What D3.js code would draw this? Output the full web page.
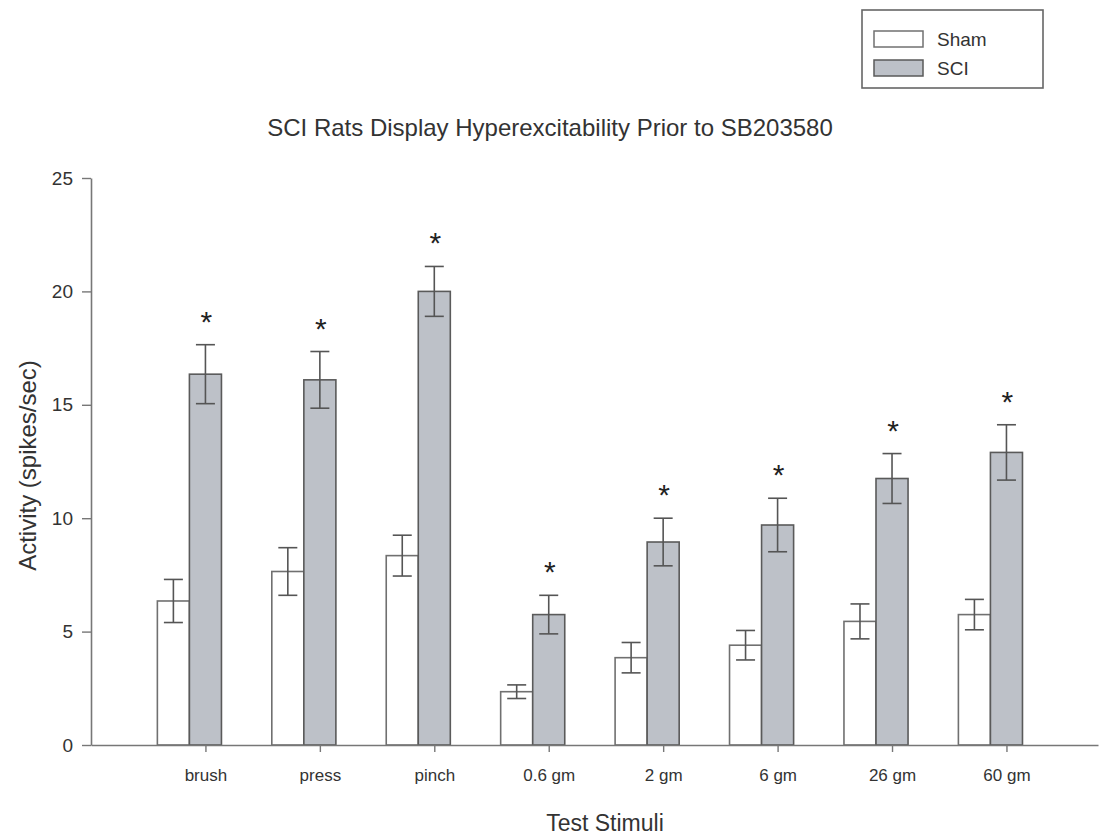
<!DOCTYPE html>
<html>
<head>
<meta charset="utf-8">
<script src="https://cdn.jsdelivr.net/npm/d3@7"></script>
<style>
  body { margin: 0; background: #fff; }
  text { font-family: "Liberation Sans", Arial, sans-serif; fill: #333; }
</style>
</head>
<body>
<div id="chart"></div>
<script>
// values (spikes/sec)
const categories = ["brush", "press", "pinch", "0.6 gm", "2 gm", "6 gm", "26 gm", "60 gm"];
const shamMean = [6.35, 7.65, 8.35, 2.35, 3.85, 4.4, 5.45, 5.75];
const shamErr = [0.95, 1.05, 0.9, 0.3, 0.67, 0.65, 0.77, 0.67];
const sciMean = [16.35, 16.1, 20.0, 5.75, 8.95, 9.7, 11.75, 12.9];
const sciErr = [1.3, 1.25, 1.1, 0.85, 1.05, 1.18, 1.1, 1.22];
const significant = [true, true, true, true, true, true, true, true];
const yTicks = [0, 5, 10, 15, 20, 25];

const width = 1111;
const height = 838;
const barW = 0.28; // in category units

const svg = d3.select("#chart")
  .append("svg")
  .attr("width", width)
  .attr("height", height);

const xScale = d3.scaleLinear()
  .domain([0, 8.8])
  .range([91, 1098]);

const yScale = d3.scaleLinear()
  .domain([0, 25])
  .range([745, 178]);

// bars: sham sits left of SCI, tick is at the SCI bar centre
const rows = categories.map((c, i) => ({
  cat: c, pos: i + 1,
  sham: shamMean[i], shamE: shamErr[i],
  sci: sciMean[i], sciE: sciErr[i],
  sig: significant[i]
}));

const g = svg.append("g");

g.selectAll("rect.sham")
  .data(rows)
  .join("rect")
  .attr("class", "sham")
  .attr("x", d => xScale(d.pos - 1.5 * barW))
  .attr("width", d => xScale(d.pos - barW / 2) - xScale(d.pos - 1.5 * barW))
  .attr("y", d => yScale(d.sham))
  .attr("height", d => yScale(0) - yScale(d.sham))
  .attr("fill", "#fff")
  .attr("stroke", "#707070")
  .attr("stroke-width", 1.6);

g.selectAll("rect.sci")
  .data(rows)
  .join("rect")
  .attr("class", "sci")
  .attr("x", d => xScale(d.pos - barW / 2))
  .attr("width", d => xScale(d.pos + barW / 2) - xScale(d.pos - barW / 2))
  .attr("y", d => yScale(d.sci))
  .attr("height", d => yScale(0) - yScale(d.sci))
  .attr("fill", "#bdc1c8")
  .attr("stroke", "#5a5a5a")
  .attr("stroke-width", 1.6);

// error bars
function errorBars(cls, centre, mean, err) {
  const eg = g.selectAll(`g.${cls}`)
    .data(rows)
    .join("g")
    .attr("class", cls)
    .attr("stroke", "#555")
    .attr("stroke-width", 1.6);
  eg.append("line")
    .attr("x1", d => xScale(centre(d))).attr("x2", d => xScale(centre(d)))
    .attr("y1", d => yScale(mean(d) - err(d))).attr("y2", d => yScale(mean(d) + err(d)));
  [1, -1].forEach(s => {
    eg.append("line")
      .attr("x1", d => xScale(centre(d)) - 9.5).attr("x2", d => xScale(centre(d)) + 9.5)
      .attr("y1", d => yScale(mean(d) + s * err(d))).attr("y2", d => yScale(mean(d) + s * err(d)));
  });
}
errorBars("err-sham", d => d.pos - barW, d => d.sham, d => d.shamE);
errorBars("err-sci", d => d.pos, d => d.sci, d => d.sciE);

// significance stars
g.selectAll("text.star")
  .data(rows.filter(d => d.sig))
  .join("text")
  .attr("class", "star")
  .attr("x", d => xScale(d.pos) + 1)
  .attr("y", d => yScale(d.sci + d.sciE) - 31 + 18)
  .attr("text-anchor", "middle")
  .style("font-size", "30px")
  .style("fill", "#222")
  .text("*");

// axes
const xAxis = d3.axisBottom(xScale)
  .tickValues(rows.map(d => d.pos))
  .tickFormat((d, i) => categories[i])
  .tickSize(7)
  .tickSizeOuter(0)
  .tickPadding(17);

const yAxis = d3.axisLeft(yScale)
  .tickValues(yTicks)
  .tickSize(9)
  .tickSizeOuter(0)
  .tickPadding(9);

const xAxisG = svg.append("g")
  .attr("transform", `translate(0, ${yScale(0)})`)
  .call(xAxis);

const yAxisG = svg.append("g")
  .attr("transform", `translate(${xScale(0)}, 0)`)
  .call(yAxis);

[xAxisG, yAxisG].forEach(a => {
  a.select(".domain").attr("stroke", "#777").attr("stroke-width", 1.6);
  a.selectAll(".tick line").attr("stroke", "#777").attr("stroke-width", 1.4);
  a.selectAll(".tick text")
    .style("font-family", "'Liberation Sans', Arial, sans-serif")
    .style("fill", "#333");
});
xAxisG.selectAll(".tick text").style("font-size", "17px");
yAxisG.selectAll(".tick text").style("font-size", "19px");

// titles
svg.append("text")
  .attr("x", 550)
  .attr("y", 136)
  .attr("text-anchor", "middle")
  .style("font-size", "24px")
  .text("SCI Rats Display Hyperexcitability Prior to SB203580");

svg.append("text")
  .attr("x", 605)
  .attr("y", 831)
  .attr("text-anchor", "middle")
  .style("font-size", "23px")
  .text("Test Stimuli");

svg.append("text")
  .attr("transform", `translate(36, ${(yScale(0) + yScale(25)) / 2 + 4}) rotate(-90)`)
  .attr("text-anchor", "middle")
  .style("font-size", "24px")
  .text("Activity (spikes/sec)");

// legend
const legend = svg.append("g");
legend.append("rect")
  .attr("x", 862).attr("y", 10)
  .attr("width", 181).attr("height", 78)
  .attr("fill", "#fff")
  .attr("stroke", "#666")
  .attr("stroke-width", 1.6);

const legendItems = [
  { label: "Sham", fill: "#fff", stroke: "#707070" },
  { label: "SCI", fill: "#bdc1c8", stroke: "#5a5a5a" }
];
legendItems.forEach((it, i) => {
  legend.append("rect")
    .attr("x", 874).attr("y", 31 + i * 29)
    .attr("width", 49).attr("height", 16)
    .attr("fill", it.fill)
    .attr("stroke", it.stroke)
    .attr("stroke-width", 1.5);
  legend.append("text")
    .attr("x", 937).attr("y", 46 + i * 29)
    .style("font-size", "19px")
    .text(it.label);
});
</script>
</body>
</html>
